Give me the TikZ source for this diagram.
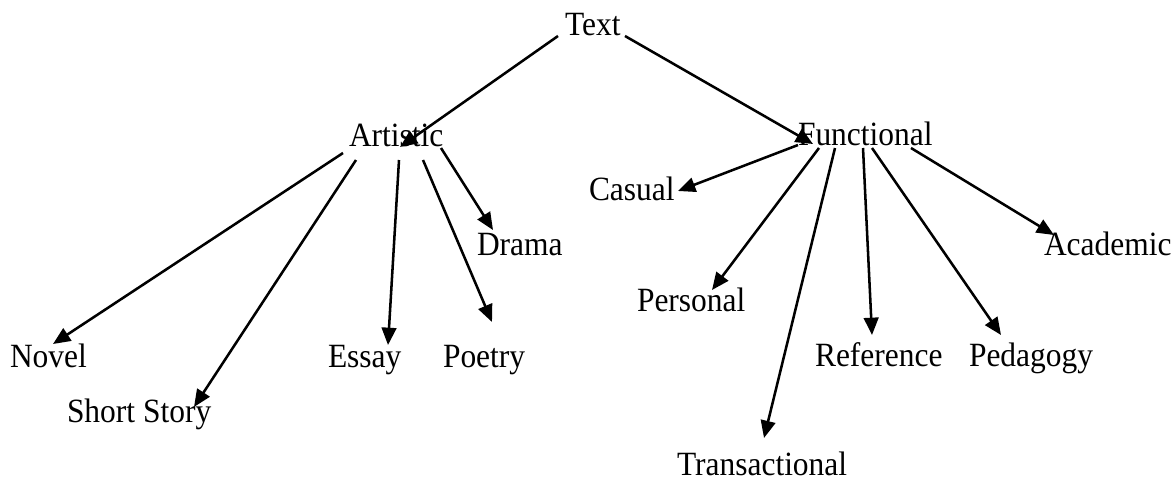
\documentclass[tikz,border=0pt]{standalone}
\usepackage{fontspec}
\setmainfont{Liberation Serif}
\usetikzlibrary{arrows.meta}
\newcommand{\tallt}[1]{\scalebox{1}[1.08]{#1}}
\begin{document}
\begin{tikzpicture}[x=0.75pt,y=-0.75pt,
  lbl/.style={inner sep=0pt,outer sep=0pt,anchor=base west,font=\fontsize{23.6}{28}\selectfont},
  arr/.style={line width=1.9pt,-{Triangle[length=13pt,width=11pt]}}]
\useasboundingbox (0,0) rectangle (1176,479);
\node[lbl] (text) at (565,35) {\tallt{Text}};
\node[lbl] (artistic) at (349,146) {\tallt{Artistic}};
\node[lbl] (functional) at (798,145) {\tallt{Functional}};
\node[lbl] (novel) at (10,367) {\tallt{Novel}};
\node[lbl] (short) at (67,422) {\tallt{Short Story}};
\node[lbl] (essay) at (328,367) {\tallt{Essay}};
\node[lbl] (poetry) at (443,367) {\tallt{Poetry}};
\node[lbl] (drama) at (477,255) {\tallt{Drama}};
\node[lbl] (casual) at (589,200) {\tallt{Casual}};
\node[lbl] (personal) at (637,311) {\tallt{Personal}};
\node[lbl] (trans) at (677,475) {\tallt{Transactional}};
\node[lbl] (reference) at (815,366) {\tallt{Reference}};
\node[lbl] (pedagogy) at (969,366) {\tallt{Pedagogy}};
\node[lbl] (academic) at (1044,255) {\tallt{Academic}};
\draw[arr] ([shift={(-7,1)}]text.base west) -- ([shift={(51,1)}]artistic.base west);
\draw[arr] ([shift={(60,1)}]text.base west) -- ([shift={(15,-1)}]functional.base west);
\draw[arr] ([shift={(-6,7)}]artistic.base west) -- ([shift={(43,-23)}]novel.base west);
\draw[arr] ([shift={(7,14)}]artistic.base west) -- ([shift={(127,-15)}]short.base west);
\draw[arr] ([shift={(50,14)}]artistic.base west) -- ([shift={(60,-22)}]essay.base west);
\draw[arr] ([shift={(74,14)}]artistic.base west) -- ([shift={(49,-45)}]poetry.base west);
\draw[arr] ([shift={(92,2)}]artistic.base west) -- ([shift={(16,-25)}]drama.base west);
\draw[arr] ([shift={(0,0)}]functional.base west) -- ([shift={(89,-9)}]casual.base west);
\draw[arr] ([shift={(21,3)}]functional.base west) -- ([shift={(75,-21)}]personal.base west);
\draw[arr] ([shift={(37,3)}]functional.base west) -- ([shift={(87,-37)}]trans.base west);
\draw[arr] ([shift={(65,3)}]functional.base west) -- ([shift={(57,-31)}]reference.base west);
\draw[arr] ([shift={(74,3)}]functional.base west) -- ([shift={(32,-31)}]pedagogy.base west);
\draw[arr] ([shift={(113,3)}]functional.base west) -- ([shift={(10,-20)}]academic.base west);
\end{tikzpicture}
\end{document}
